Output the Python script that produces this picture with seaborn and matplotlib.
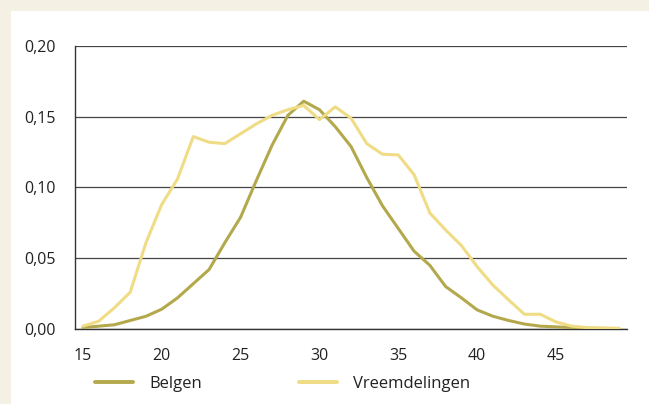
import numpy as np
import pandas as pd
import matplotlib
matplotlib.use("Agg")
import matplotlib.pyplot as plt
from matplotlib.patches import Rectangle
from matplotlib.ticker import FuncFormatter, MultipleLocator
import seaborn as sns

ages = list(range(15, 50))
belgen = [0.001, 0.002, 0.003, 0.006, 0.009, 0.014, 0.022, 0.032, 0.042, 0.061,
          0.079, 0.105, 0.130, 0.151, 0.161, 0.155, 0.143, 0.129, 0.107, 0.087,
          0.071, 0.055, 0.045, 0.030, 0.022, 0.0135, 0.009, 0.006, 0.0035, 0.002,
          0.0015, 0.001, 0.0005, 0.0003, 0.0002]
vreemdelingen = [0.002, 0.0055, 0.015, 0.026, 0.061, 0.088, 0.106, 0.136, 0.132, 0.131,
                 0.138, 0.145, 0.151, 0.155, 0.158, 0.148, 0.157, 0.149, 0.131, 0.1235,
                 0.123, 0.109, 0.082, 0.070, 0.059, 0.044, 0.031, 0.0205, 0.0104, 0.0104,
                 0.005, 0.002, 0.001, 0.0008, 0.0005]
series_names = ["Belgen", "Vreemdelingen"]
colors = ["#b3a94c", "#efdc85"]

df = pd.DataFrame({
    "leeftijd": ages * 2,
    "waarde": belgen + vreemdelingen,
    "groep": [series_names[0]] * len(ages) + [series_names[1]] * len(ages),
})

sns.set_style("white")
plt.rcParams["font.family"] = ["Open Sans", "DejaVu Sans"]
fs = 11.5

fig = plt.figure(figsize=(6.49, 4.04), dpi=100)
fig.patch.set_facecolor("#f5f0e4")
fig.patches.append(Rectangle((11 / 649, 0), 1, 1 - 11 / 404, transform=fig.transFigure,
                             facecolor="white", edgecolor="none", zorder=-5))

ax = fig.add_axes([75 / 649, 1 - 329 / 404, (627 - 75) / 649, (329 - 46) / 404])
ax.set_facecolor("none")

sns.lineplot(data=df, x="leeftijd", y="waarde", hue="groep", palette=colors,
             linewidth=2.2, ax=ax, legend=False, zorder=3)

ax.set_xlim(14.5, 49.5)
ax.set_ylim(0, 0.2)
ax.yaxis.set_major_locator(MultipleLocator(0.05))
ax.yaxis.set_major_formatter(FuncFormatter(lambda v, p: f"{v:.2f}".replace(".", ",")))
ax.set_xticks([15, 20, 25, 30, 35, 40, 45])
ax.set_xticks(np.arange(15.5, 50, 1), minor=True)
ax.tick_params(axis="x", which="major", length=0, pad=14, labelsize=fs, colors="#222222")
ax.tick_params(axis="x", which="minor", direction="in", length=10, width=0.9, color="#222222")
ax.tick_params(axis="y", length=0, pad=14, labelsize=fs, colors="#222222")

ax.grid(axis="y", color="#444444", linewidth=0.9, zorder=1)
ax.set_axisbelow(True)
for s in ["top", "right"]:
    ax.spines[s].set_visible(False)
for s in ["left", "bottom"]:
    ax.spines[s].set_color("#333333")
    ax.spines[s].set_linewidth(1.0)
ax.set_xlabel("")
ax.set_ylabel("")

handles = [plt.Line2D([], [], color=c, linewidth=2.8) for c in colors]
fig.legend(handles, series_names, loc="center left", bbox_to_anchor=(80 / 649, 1 - 384 / 404),
           ncol=2, frameon=False, fontsize=12, handlelength=2.3, handletextpad=0.95,
           columnspacing=5.8, labelcolor="#222222")

fig.savefig("out.png", dpi=100, facecolor=fig.get_facecolor())
